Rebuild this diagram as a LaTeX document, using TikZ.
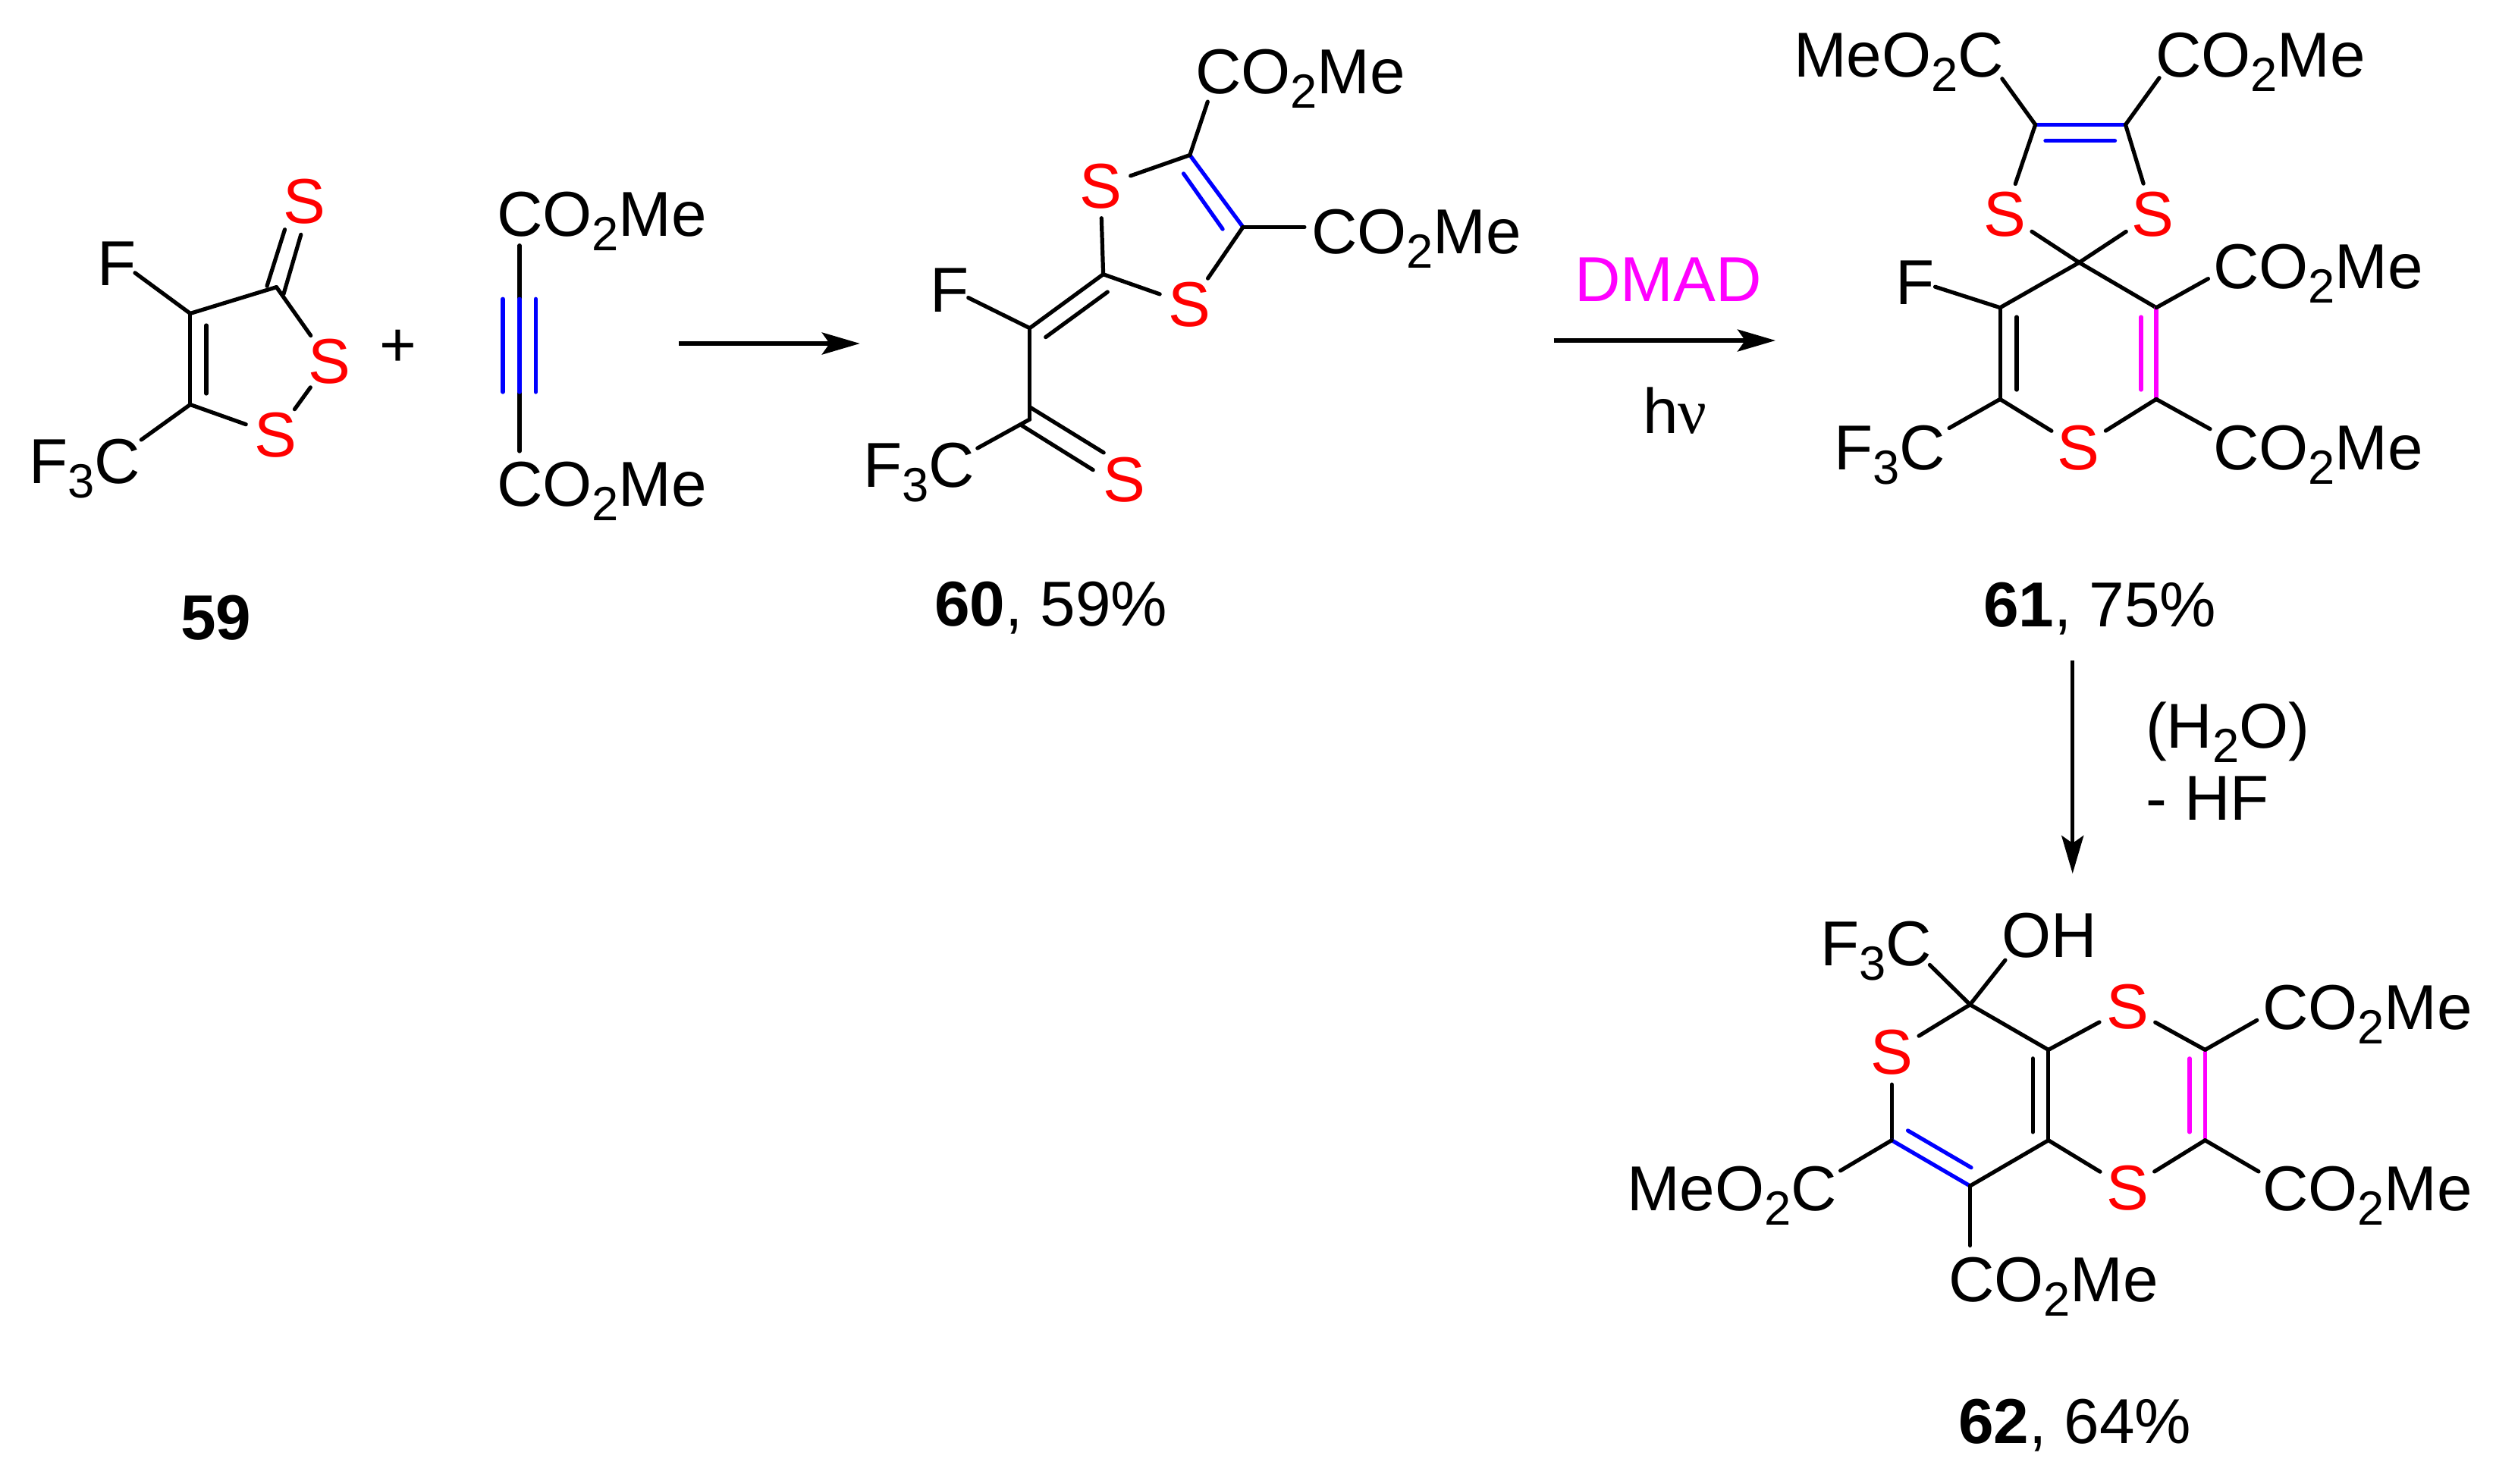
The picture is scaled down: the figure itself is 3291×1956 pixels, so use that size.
\documentclass[tikz,border=0pt]{standalone}
\usepackage{fontspec}
\setmainfont{Liberation Sans}
\newfontfamily\nufont{Liberation Serif}
\usetikzlibrary{arrows.meta}
\newcommand{\chemsub}[1]{\raisebox{-0.19cm}{\fontsize{18}{20}\selectfont #1}}
\definecolor{cblue}{RGB}{0,0,255}
\definecolor{cmag}{RGB}{255,0,255}
\definecolor{cred}{RGB}{255,0,0}
\tikzset{
  bond/.style={line width=0.052cm,line cap=round,draw=black},
  bondblue/.style={bond,draw=cblue},
  bondmag/.style={bond,draw=cmag},
  rxn/.style={line width=0.052cm,draw=black,-{Stealth[length=0.5cm,width=0.29cm,inset=0.1cm]}},
  lab/.style={anchor=base west,inner sep=0pt,outer sep=0pt,font=\fontsize{23.8}{28}\selectfont},
  redlab/.style={lab,text=cred},
  satom/.style={circle,minimum size=0.84cm,inner sep=0pt,outer sep=0pt,text=cred,font=\fontsize{23.8}{28}\selectfont},
  sfree/.style={inner sep=0pt,outer sep=0pt,text=cred,font=\fontsize{23.8}{28}\selectfont}
}
\begin{document}
\begin{tikzpicture}[x=0.01cm,y=-0.01cm]
\useasboundingbox (0,0) rectangle (3291,1956);

%% ---------- 59 ----------
\coordinate (a4) at (250.8,413.4);
\coordinate (a5) at (250.8,533.5);
\coordinate (a3) at (364.5,378.6);
\coordinate (a4i) at (272,429);
\coordinate (a5i) at (272,519);
\coordinate (aex1) at (352,377.2);
\coordinate (aex2) at (375.5,302.7);
\coordinate (aex3) at (374,387.5);
\coordinate (aex4) at (396.8,309.4);
\coordinate (aFe) at (178,359.8);
\coordinate (aCFe) at (186.3,579.9);
\node[sfree] (aSx) at (401,265.6) {S};
\node[satom] (aS1) at (434,476.8) {S};
\node[satom] (aS2) at (363.8,573.7) {S};
\node[lab] (aF) at (128,376.5) {F};
\node[lab] (aCF) at (38,637.5) {F\chemsub{3}C};
\draw[bond] (a4) -- (a5);
\draw[bond] (a4i) -- (a5i);
\draw[bond] (a4) -- (a3);
\draw[bond] (a3) -- (aS1);
\draw[bond] (aS1) -- (aS2);
\draw[bond] (a5) -- (aS2);
\draw[bond] (aex1) -- (aex2);
\draw[bond] (aex3) -- (aex4);
\draw[bond] (a4) -- (aFe);
\draw[bond] (a5) -- (aCFe);
\node[lab,font=\fontsize{23.8}{28}\selectfont\bfseries] (n59) at (238,843.8) {59};

\node[lab] (plus) at (500,483) {+};

%% ---------- DMAD ----------
\coordinate (bt) at (685,323.7);
\coordinate (bm1) at (685,394.2);
\coordinate (bm2) at (685,517);
\coordinate (bb) at (685,595);
\coordinate (bl1) at (663,394.2);
\coordinate (bl2) at (663,517);
\coordinate (br1) at (706.3,394.2);
\coordinate (br2) at (706.3,517);
\node[lab] (bT) at (655,311.6) {CO\chemsub{2}Me};
\node[lab] (bB) at (655,667.9) {CO\chemsub{2}Me};
\draw[bond] (bt) -- (bm1);
\draw[bond] (bm2) -- (bb);
\draw[bondblue] (bm1) -- (bm2);
\draw[bondblue] (bl1) -- (bl2);
\draw[bondblue] (br1) -- (br2);

\coordinate (r1s) at (894.8,453);
\coordinate (r1e) at (1133.8,453);
\draw[rxn] (r1s) -- (r1e);

%% ---------- 60 ----------
\coordinate (c1) at (1568.8,204.5);
\coordinate (c2) at (1638.9,299.4);
\coordinate (c3) at (1454.6,361.7);
\coordinate (c4) at (1357.7,432.7);
\coordinate (c5) at (1357.7,553);
\coordinate (c1i) at (1560.5,228.9);
\coordinate (c2i) at (1612.1,302.1);
\coordinate (c3i) at (1460.3,385);
\coordinate (c4i) at (1378.7,444.6);
\coordinate (cex1) at (1357.7,536.8);
\coordinate (cex2) at (1455.2,596.9);
\coordinate (cex3) at (1347.4,561.2);
\coordinate (cex4) at (1441.2,619.7);
\coordinate (c1e) at (1592.3,134.1);
\coordinate (c2e) at (1719.9,299.4);
\coordinate (cFe) at (1276.7,392.6);
\coordinate (cCFe) at (1288.8,591);
\node[satom] (cS1) at (1451,245.7) {S};
\node[satom] (cS2) at (1568.8,401.8) {S};
\node[sfree] (cSx) at (1482.7,632.7) {S};
\node[lab] (cT) at (1576,123.2) {CO\chemsub{2}Me};
\node[lab] (cR) at (1729,334.6) {CO\chemsub{2}Me};
\node[lab] (cF) at (1226,411) {F};
\node[lab] (cCF) at (1138,642.5) {F\chemsub{3}C};
\draw[bondblue] (c1) -- (c2);
\draw[bondblue] (c1i) -- (c2i);
\draw[bond] (c1) -- (cS1);
\draw[bond] (cS1) -- (c3);
\draw[bond] (c3) -- (cS2);
\draw[bond] (cS2) -- (c2);
\draw[bond] (c3) -- (c4);
\draw[bond] (c3i) -- (c4i);
\draw[bond] (c4) -- (c5);
\draw[bond] (cex1) -- (cex2);
\draw[bond] (cex3) -- (cex4);
\draw[bond] (c1) -- (c1e);
\draw[bond] (c2) -- (c2e);
\draw[bond] (c4) -- (cFe);
\draw[bond] (c5) -- (cCFe);
\node[lab] (n60) at (1232,825.7) {\textbf{60}, 59\%};

%% ---------- arrow DMAD ----------
\coordinate (r2s) at (2048.5,449);
\coordinate (r2e) at (2341,449);
\draw[rxn] (r2s) -- (r2e);
\node[lab,text=cmag] (dmad) at (2076,397) {DMAD};
\node[lab] (hnu) at (2166,571) {h{\nufont ν}};

%% ---------- 61 ----------
\coordinate (d1) at (2683.6,164.4);
\coordinate (d2) at (2802.5,164.4);
\coordinate (d1i) at (2696.9,185.7);
\coordinate (d2i) at (2788.5,185.7);
\coordinate (d3) at (2741.4,346.2);
\coordinate (d4) at (2637.1,405.7);
\coordinate (d5) at (2843,405.7);
\coordinate (d6) at (2637.1,526.4);
\coordinate (d7) at (2843,526.4);
\coordinate (d4i) at (2659,418);
\coordinate (d6i) at (2659,514);
\coordinate (d5i) at (2823,418);
\coordinate (d7i) at (2823,514);
\coordinate (d1e) at (2639.8,103.8);
\coordinate (d2e) at (2847,102.7);
\coordinate (dFe) at (2551.5,378.2);
\coordinate (d5e) at (2911.4,367.6);
\coordinate (d6e) at (2570,564.5);
\coordinate (d7e) at (2914,565.7);
\node[satom] (dS1) at (2643.8,282.3) {S};
\node[satom] (dS2) at (2838.3,282.3) {S};
\node[satom] (dS3) at (2740.7,590.3) {S};
\node[lab] (dTL) at (2365,101) {MeO\chemsub{2}C};
\node[lab] (dTR) at (2842,101) {CO\chemsub{2}Me};
\node[lab] (dF) at (2499,401.8) {F};
\node[lab] (dR1) at (2918,380.5) {CO\chemsub{2}Me};
\node[lab] (dCF) at (2418,619) {F\chemsub{3}C};
\node[lab] (dR2) at (2918,619) {CO\chemsub{2}Me};
\draw[bondblue] (d1) -- (d2);
\draw[bondblue] (d1i) -- (d2i);
\draw[bond] (d1) -- (dS1);
\draw[bond] (d2) -- (dS2);
\draw[bond] (dS1) -- (d3);
\draw[bond] (dS2) -- (d3);
\draw[bond] (d3) -- (d4);
\draw[bond] (d3) -- (d5);
\draw[bond] (d4) -- (d6);
\draw[bond] (d4i) -- (d6i);
\draw[bondmag] (d5) -- (d7);
\draw[bondmag] (d5i) -- (d7i);
\draw[bond] (d6) -- (dS3);
\draw[bond] (d7) -- (dS3);
\draw[bond] (d1) -- (d1e);
\draw[bond] (d2) -- (d2e);
\draw[bond] (d4) -- (dFe);
\draw[bond] (d5) -- (d5e);
\draw[bond] (d6) -- (d6e);
\draw[bond] (d7) -- (d7e);
\node[lab] (n61) at (2615,826.6) {\textbf{61}, 75\%};

%% ---------- arrow H2O ----------
\coordinate (r3s) at (2732.7,871);
\coordinate (r3e) at (2732.7,1152);
\draw[rxn] (r3s) -- (r3e);
\node[lab] (h2o) at (2829,986) {(H\chemsub{2}O)};
\node[lab] (hf) at (2829,1081) {- HF};

%% ---------- 62 ----------
\coordinate (e1) at (2597.5,1324.8);
\coordinate (e2) at (2700.8,1384.4);
\coordinate (e3) at (2700.8,1503.7);
\coordinate (e4) at (2907.4,1384.4);
\coordinate (e5) at (2907.4,1503.7);
\coordinate (e6) at (2494.2,1503.7);
\coordinate (e7) at (2597.5,1563.9);
\coordinate (e2i) at (2680.3,1395.8);
\coordinate (e3i) at (2680.3,1492.9);
\coordinate (e4i) at (2887,1395.8);
\coordinate (e5i) at (2887,1492.9);
\coordinate (e6i) at (2515.5,1490.9);
\coordinate (e7i) at (2599,1539.7);
\coordinate (e1a) at (2544.4,1272.4);
\coordinate (e1b) at (2643.9,1266.2);
\coordinate (e4e) at (2975.8,1345.4);
\coordinate (e5e) at (2978,1544.9);
\coordinate (e6e) at (2426.6,1543.8);
\coordinate (e7e) at (2597.5,1642.5);
\node[satom] (eS1) at (2494.2,1388) {S};
\node[satom] (eS2) at (2804.9,1327.9) {S};
\node[satom] (eS3) at (2804.9,1567) {S};
\node[lab] (eCF) at (2400,1273.4) {F\chemsub{3}C};
\node[lab] (eOH) at (2639,1262) {OH};
\node[lab] (eR1) at (2983,1357.7) {CO\chemsub{2}Me};
\node[lab] (eR2) at (2983,1596.3) {CO\chemsub{2}Me};
\node[lab] (eL) at (2145,1596.3) {MeO\chemsub{2}C};
\node[lab] (eB) at (2569,1716.6) {CO\chemsub{2}Me};
\draw[bond] (e1) -- (eS1);
\draw[bond] (eS1) -- (e6);
\draw[bondblue] (e6) -- (e7);
\draw[bondblue] (e6i) -- (e7i);
\draw[bond] (e7) -- (e3);
\draw[bond] (e3) -- (e2);
\draw[bond] (e3i) -- (e2i);
\draw[bond] (e2) -- (e1);
\draw[bond] (e2) -- (eS2);
\draw[bond] (eS2) -- (e4);
\draw[bondmag] (e4) -- (e5);
\draw[bondmag] (e4i) -- (e5i);
\draw[bond] (e5) -- (eS3);
\draw[bond] (eS3) -- (e3);
\draw[bond] (e1) -- (e1a);
\draw[bond] (e1) -- (e1b);
\draw[bond] (e4) -- (e4e);
\draw[bond] (e5) -- (e5e);
\draw[bond] (e6) -- (e6e);
\draw[bond] (e7) -- (e7e);
\node[lab] (n62) at (2582,1903.2) {\textbf{62}, 64\%};
\end{tikzpicture}
\end{document}
